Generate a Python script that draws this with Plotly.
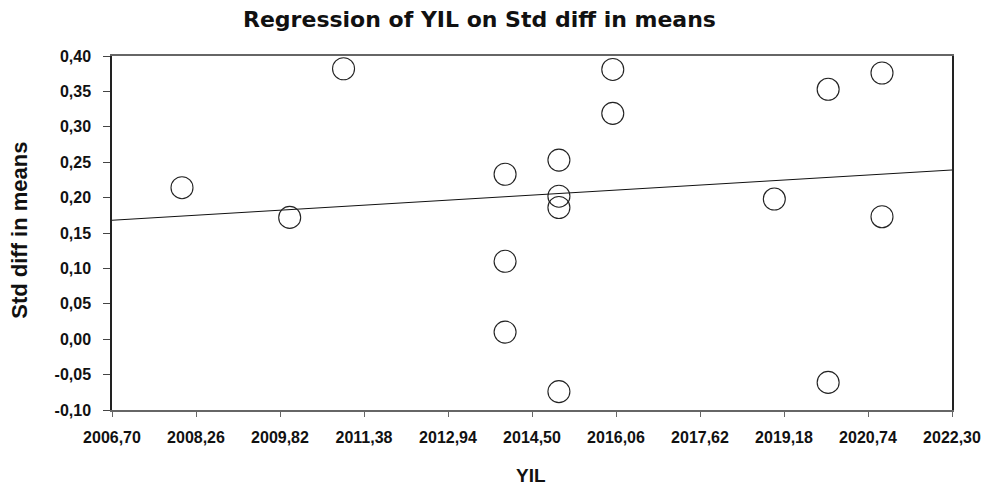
import plotly.graph_objects as go

# Data
yil = [2008, 2010, 2011, 2014, 2014, 2014, 2015, 2015, 2015, 2015,
       2016, 2016, 2019, 2020, 2020, 2021, 2021]
std_diff = [0.214, 0.172, 0.382, 0.233, 0.110, 0.010, 0.253, 0.202, 0.186, -0.074,
            0.381, 0.319, 0.198, 0.353, -0.061, 0.376, 0.173]

# Regression line end points (as drawn in the reference)
reg_x = [2006.70, 2022.30]
reg_y = [0.168, 0.239]

x_tickvals = [2006.70, 2008.26, 2009.82, 2011.38, 2012.94, 2014.50,
              2016.06, 2017.62, 2019.18, 2020.74, 2022.30]
x_ticktext = ["2006,70", "2008,26", "2009,82", "2011,38", "2012,94", "2014,50",
              "2016,06", "2017,62", "2019,18", "2020,74", "2022,30"]
y_tickvals = [-0.10, -0.05, 0.00, 0.05, 0.10, 0.15, 0.20, 0.25, 0.30, 0.35, 0.40]
y_ticktext = ["-0,10", "-0,05", "0,00", "0,05", "0,10", "0,15", "0,20",
              "0,25", "0,30", "0,35", "0,40"]

title_text = "Regression of YIL on Std diff in means"
x_title = "YIL"
y_title = "Std diff in means"

fig = go.Figure()
fig.add_trace(go.Scatter(
    x=reg_x, y=reg_y, mode="lines",
    line=dict(color="#111111", width=1), hoverinfo="skip", showlegend=False))
fig.add_trace(go.Scatter(
    x=yil, y=std_diff, mode="markers",
    marker=dict(symbol="circle", size=22, color="rgba(0,0,0,0)",
                line=dict(color="#222222", width=1.1)),
    showlegend=False))

tick_font = dict(family="Liberation Sans, Arial, sans-serif", size=16, color="#111111", weight="bold")

fig.update_layout(
    width=985, height=485,
    margin=dict(l=112, r=33, t=56, b=75),
    paper_bgcolor="white", plot_bgcolor="white",
    xaxis=dict(range=[2006.70, 2022.30], tickvals=x_tickvals, ticktext=x_ticktext,
               showgrid=False, zeroline=False, showline=True, linecolor="#666666",
               linewidth=1.5, mirror=True, ticks="outside", ticklen=5, tickcolor="#666666",
               tickfont=tick_font, ticklabelstandoff=7, automargin=False),
    yaxis=dict(range=[-0.10, 0.40], tickvals=y_tickvals, ticktext=y_ticktext,
               showgrid=False, zeroline=False, showline=True, linecolor="#222222",
               linewidth=1.5, mirror=True, ticks="outside", ticklen=7, tickcolor="#444444",
               tickfont=tick_font, ticklabelstandoff=9, automargin=False),
    annotations=[
        dict(text=title_text, xref="paper", yref="paper", x=0.437, y=1.104,
             xanchor="center", yanchor="middle", showarrow=False,
             font=dict(family="DejaVu Sans, sans-serif", size=22, color="#111111", weight="bold")),
        dict(text=y_title, xref="paper", yref="paper", x=-0.11, y=0.508,
             xanchor="center", yanchor="middle", showarrow=False, textangle=-90,
             font=dict(family="Liberation Sans, Arial, sans-serif", size=22, color="#111111", weight="bold")),
        dict(text=x_title, xref="paper", yref="paper", x=0.499, y=-0.184,
             xanchor="center", yanchor="middle", showarrow=False,
             font=dict(family="Liberation Sans, Arial, sans-serif", size=19, color="#111111", weight="bold")),
    ],
)

fig.write_html("out.html",
               config={"displayModeBar": False},
               post_script="document.body.style.margin='0px';document.body.style.overflow='hidden';")
